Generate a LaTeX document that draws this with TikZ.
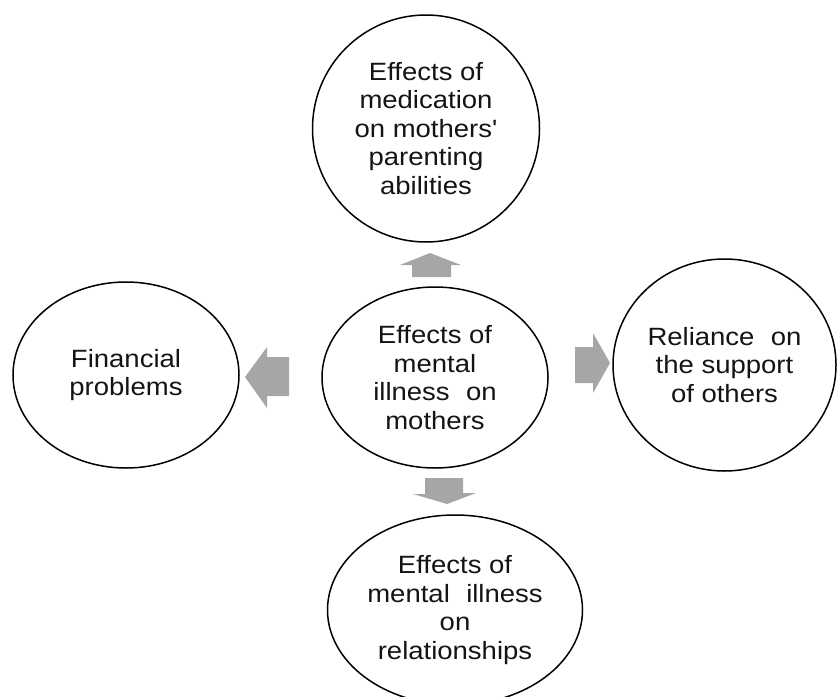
\documentclass[tikz,border=0pt]{standalone}
\usepackage{fontspec}
\setmainfont[FakeStretch=1.1, Ligatures=TeXOff]{Liberation Sans}
\usetikzlibrary{shapes.geometric}
\definecolor{arrowgray}{HTML}{A6A6A6}
\definecolor{txt}{HTML}{141414}
\begin{document}
\begin{tikzpicture}[x=1pt,y=-1pt,
  bubble/.style={draw=black, line width=1.5pt, ellipse, inner sep=0pt, align=center,
    font=\fontsize{25}{28.5}\selectfont, text=txt},
  blockarrow/.style={fill=arrowgray, draw=none}]
\useasboundingbox (0,0) rectangle (837,696);
\node[bubble, minimum width=227, minimum height=227] (med) at (426,128.5)
  {Effects of\\medication\\on mothers'\\parenting\\abilities};
\node[bubble, minimum width=226, minimum height=181] (ctr) at (435,377.5)
  {Effects of\\mental\\illness\hspace{0.35em} on\\mothers};
\node[bubble, minimum width=226, minimum height=186] (fin) at (126,375)
  {Financial\\problems};
\node[bubble, minimum width=223, minimum height=212] (rel) at (724.5,365)
  {Reliance\hspace{0.35em} on\\the support\\of others};
\node[bubble, minimum width=255, minimum height=190] (rsh) at (455,610)
  {Effects of\\mental\hspace{0.35em} illness\\on\\relationships};
% up arrow
\fill[blockarrow] (412,277) -- (412,265) -- (400,265) -- (430,253) -- (461,265) -- (451,265) -- (451,277) -- cycle;
% left arrow
\fill[blockarrow] (289,357) -- (267,357) -- (267,347) -- (245,377) -- (267,408) -- (267,396) -- (289,396) -- cycle;
% right arrow
\fill[blockarrow] (575,347) -- (593,347) -- (593,333) -- (610,363) -- (593,393) -- (593,383) -- (575,383) -- cycle;
% down arrow
\fill[blockarrow] (425,478) -- (463,478) -- (463,493) -- (476,493) -- (447,504) -- (413,494) -- (425,494) -- cycle;
\end{tikzpicture}
\end{document}
